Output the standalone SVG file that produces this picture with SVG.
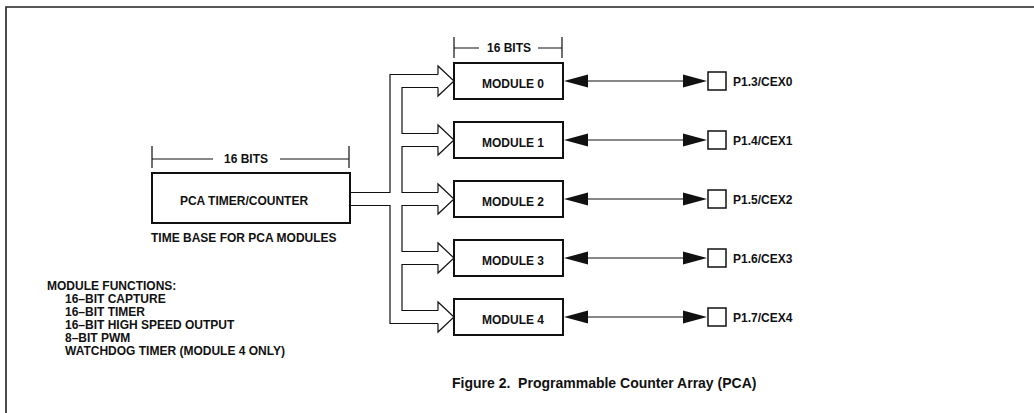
<svg xmlns="http://www.w3.org/2000/svg" width="1034" height="413" viewBox="0 0 1034 413">
<defs>
<style>
text{font-family:"Liberation Sans",Arial,Helvetica,sans-serif;font-weight:bold;font-size:12px;fill:#111}
.title{font-size:14px;white-space:pre}
.box{fill:#fff;stroke:#111;stroke-width:2}
.ln{fill:none;stroke:#111;stroke-width:1.2}
.hd{fill:#111;stroke:none}
.pin{fill:#fff;stroke:#111;stroke-width:1.5}
.mid{text-anchor:middle}
</style>
</defs>
<rect width="1034" height="413" fill="#fff"/>
<path d="M6,413 V7 H1034" fill="none" stroke="#222" stroke-width="1.6"/>

<g id="pca">
<rect class="box" x="152" y="173" width="198" height="50"/>
<text class="mid" x="244" y="205">PCA TIMER/COUNTER</text>
<text x="151" y="242">TIME BASE FOR PCA MODULES</text>
<path class="ln" d="M152,146 V168 M349,146 V168 M152,159 H213 M280,159 H349"/>
<text class="mid" x="246" y="163">16 BITS</text>
</g>

<g id="connectors">
<path class="ln" d="M438,74.5 H390 V192.5 H350 M350,205.5 H390 V323.5 H438"/>
<path class="ln" d="M438,87.5 H402 V133.5 H438 M438,146.5 H402 V192.5 H438 M438,205.5 H402 V251.5 H438 M438,264.5 H402 V310.5 H438"/>
<path class="ln" d="M438,74.5 V66 L454,81 L438,96 V87.5 M438,133.5 V125 L454,140 L438,155 V146.5 M438,192.5 V184 L454,199 L438,214 V205.5 M438,251.5 V243 L454,258 L438,273 V264.5 M438,310.5 V302 L454,317 L438,332 V323.5"/>
<path class="ln" d="M580,81 H690 M580,140 H690 M580,199 H690 M580,258 H690 M580,317 H690"/>
<path class="hd" d="M564,81 L588,74.5 V87.5 Z M707,81 L683,74.5 V87.5 Z M564,140 L588,133.5 V146.5 Z M707,140 L683,133.5 V146.5 Z M564,199 L588,192.5 V205.5 Z M707,199 L683,192.5 V205.5 Z M564,258 L588,251.5 V264.5 Z M707,258 L683,251.5 V264.5 Z M564,317 L588,310.5 V323.5 Z M707,317 L683,310.5 V323.5 Z"/>
</g>

<g id="module0">
<rect class="box" x="454" y="63" width="109" height="36"/>
<text class="mid" x="513" y="88">MODULE 0</text>
<path class="ln" d="M454,37 V58 M562,37 V58 M454,48 H479 M538,48 H562"/>
<text class="mid" x="509" y="52">16 BITS</text>
</g>
<g id="module1">
<rect class="box" x="454" y="122" width="109" height="36"/>
<text class="mid" x="513" y="147">MODULE 1</text>
</g>
<g id="module2">
<rect class="box" x="454" y="181" width="109" height="36"/>
<text class="mid" x="513" y="206">MODULE 2</text>
</g>
<g id="module3">
<rect class="box" x="454" y="240" width="109" height="36"/>
<text class="mid" x="513" y="265">MODULE 3</text>
</g>
<g id="module4">
<rect class="box" x="454" y="299" width="109" height="36"/>
<text class="mid" x="513" y="324">MODULE 4</text>
</g>

<g id="pin0"><rect class="pin" x="708" y="72" width="18" height="18"/><text x="733" y="86">P1.3/CEX0</text></g>
<g id="pin1"><rect class="pin" x="708" y="131" width="18" height="18"/><text x="733" y="145">P1.4/CEX1</text></g>
<g id="pin2"><rect class="pin" x="708" y="190" width="18" height="18"/><text x="733" y="204">P1.5/CEX2</text></g>
<g id="pin3"><rect class="pin" x="708" y="249" width="18" height="18"/><text x="733" y="263">P1.6/CEX3</text></g>
<g id="pin4"><rect class="pin" x="708" y="308" width="18" height="18"/><text x="733" y="322">P1.7/CEX4</text></g>

<g id="functions">
<text x="47" y="290">MODULE FUNCTIONS:</text>
<text x="65" y="303">16–BIT CAPTURE</text>
<text x="65" y="316">16–BIT TIMER</text>
<text x="65" y="329">16–BIT HIGH SPEED OUTPUT</text>
<text x="65" y="342">8–BIT PWM</text>
<text x="65" y="355">WATCHDOG TIMER (MODULE 4 ONLY)</text>
</g>

<text class="title" x="452" y="388">Figure 2.  Programmable Counter Array (PCA)</text>
</svg>
